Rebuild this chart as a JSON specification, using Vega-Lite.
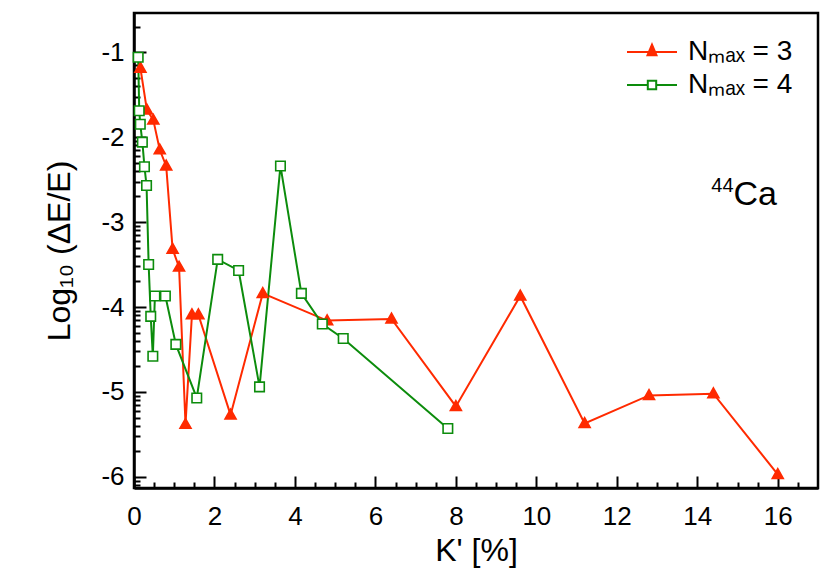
{
  "$schema": "https://vega.github.io/schema/vega-lite/v6.json",
  "width": 684,
  "height": 475,
  "autosize": {"type": "none"},
  "padding": {"left": 134, "top": 13, "right": 12, "bottom": 98},
  "background": "white",
  "config": {
    "font": "Liberation Sans",
    "view": {"stroke": "black", "strokeWidth": 2.5},
    "axis": {
      "labelFont": "Liberation Sans",
      "titleFont": "Liberation Sans",
      "labelColor": "black",
      "titleColor": "black",
      "titleFontWeight": "normal",
      "grid": false,
      "domainColor": "black",
      "tickColor": "black",
      "domainWidth": 2.5,
      "tickWidth": 2
    }
  },
  "data": {
    "values": [
      {"series": "Nmax = 3", "K": 0.16, "logdE": -1.19},
      {"series": "Nmax = 3", "K": 0.32, "logdE": -1.68},
      {"series": "Nmax = 3", "K": 0.48, "logdE": -1.80},
      {"series": "Nmax = 3", "K": 0.64, "logdE": -2.15},
      {"series": "Nmax = 3", "K": 0.80, "logdE": -2.34},
      {"series": "Nmax = 3", "K": 0.96, "logdE": -3.32},
      {"series": "Nmax = 3", "K": 1.12, "logdE": -3.53},
      {"series": "Nmax = 3", "K": 1.28, "logdE": -5.38},
      {"series": "Nmax = 3", "K": 1.44, "logdE": -4.09},
      {"series": "Nmax = 3", "K": 1.60, "logdE": -4.09},
      {"series": "Nmax = 3", "K": 2.40, "logdE": -5.27},
      {"series": "Nmax = 3", "K": 3.20, "logdE": -3.84},
      {"series": "Nmax = 3", "K": 4.80, "logdE": -4.16},
      {"series": "Nmax = 3", "K": 6.40, "logdE": -4.14},
      {"series": "Nmax = 3", "K": 8.00, "logdE": -5.17},
      {"series": "Nmax = 3", "K": 9.60, "logdE": -3.87},
      {"series": "Nmax = 3", "K": 11.20, "logdE": -5.37},
      {"series": "Nmax = 3", "K": 12.80, "logdE": -5.04},
      {"series": "Nmax = 3", "K": 14.40, "logdE": -5.02},
      {"series": "Nmax = 3", "K": 16.00, "logdE": -5.97},
      {"series": "Nmax = 4", "K": 0.104, "logdE": -1.06},
      {"series": "Nmax = 4", "K": 0.13, "logdE": -1.69},
      {"series": "Nmax = 4", "K": 0.156, "logdE": -1.85},
      {"series": "Nmax = 4", "K": 0.208, "logdE": -2.06},
      {"series": "Nmax = 4", "K": 0.26, "logdE": -2.35},
      {"series": "Nmax = 4", "K": 0.312, "logdE": -2.57},
      {"series": "Nmax = 4", "K": 0.364, "logdE": -3.50},
      {"series": "Nmax = 4", "K": 0.416, "logdE": -4.11},
      {"series": "Nmax = 4", "K": 0.468, "logdE": -4.58},
      {"series": "Nmax = 4", "K": 0.52, "logdE": -3.87},
      {"series": "Nmax = 4", "K": 0.78, "logdE": -3.87},
      {"series": "Nmax = 4", "K": 1.04, "logdE": -4.44},
      {"series": "Nmax = 4", "K": 1.56, "logdE": -5.07},
      {"series": "Nmax = 4", "K": 2.08, "logdE": -3.44},
      {"series": "Nmax = 4", "K": 2.60, "logdE": -3.57},
      {"series": "Nmax = 4", "K": 3.12, "logdE": -4.94},
      {"series": "Nmax = 4", "K": 3.64, "logdE": -2.34},
      {"series": "Nmax = 4", "K": 4.16, "logdE": -3.84},
      {"series": "Nmax = 4", "K": 4.68, "logdE": -4.20},
      {"series": "Nmax = 4", "K": 5.20, "logdE": -4.37},
      {"series": "Nmax = 4", "K": 7.80, "logdE": -5.43}
    ]
  },
  "layer": [
    {
      "mark": {"type": "line", "strokeWidth": 2},
      "encoding": {
        "x": {
          "field": "K", "type": "quantitative",
          "scale": {"domain": [0, 17], "nice": false, "zero": false},
          "axis": {
            "orient": "bottom",
            "values": [0, 2, 4, 6, 8, 10, 12, 14, 16],
            "tickSize": -12,
            "labelPadding": 27,
            "labelFontSize": 26,
            "labelFlush": false,
            "title": "K' [%]",
            "titleFontSize": 32,
            "titlePadding": 6
          }
        },
        "y": {
          "field": "logdE", "type": "quantitative",
          "scale": {"domain": [-6.13, -0.54], "nice": false, "zero": false},
          "axis": {
            "orient": "left",
            "values": [-6, -5, -4, -3, -2, -1],
            "tickSize": -12,
            "labelPadding": 22,
            "labelFontSize": 26,
            "labelFlush": false,
            "labelExpr": "replace(datum.label, '−', '-')",
            "title": "Log₁₀ (ΔE/E)",
            "titleFontSize": 32,
            "titlePadding": 24
          }
        },
        "detail": {"field": "series", "type": "nominal"},
        "stroke": {"condition": {"test": "datum.series == 'Nmax = 3'", "value": "#ff2a00"}, "value": "#0c8c0c"}
      }
    },
    {
      "mark": {"type": "point", "opacity": 0, "size": 100},
      "encoding": {
        "x": {"field": "K", "type": "quantitative", "axis": null},
        "y": {"field": "logdE", "type": "quantitative", "axis": null},
        "shape": {
          "field": "series", "type": "nominal",
          "scale": {"domain": ["Nmax = 3", "Nmax = 4"], "range": ["M-2.5,0H2.5M0,-0.74L0.45,0.33L-0.45,0.33Z", "M-2.5,0H-0.42M0.42,0H2.5M-0.42,-0.42H0.42V0.42H-0.42Z"]},
          "legend": {
            "title": null,
            "orient": "top-right",
            "offset": 25,
            "padding": 0,
            "symbolSize": 400,
            "symbolStrokeWidth": 2,
            "symbolOpacity": 1,
            "labelFont": "Liberation Sans",
            "labelFontSize": 28,
            "labelColor": "black",
            "labelOffset": 22,
            "labelLimit": 300,
            "rowPadding": 5,
            "labelExpr": "replace(datum.label, 'max', 'ₘₐₓ')",
            "encoding": {
              "symbols": {
                "fill": {"condition": {"test": "datum.value == 'Nmax = 3'", "value": "#ff2a00"}, "value": "white"},
                "stroke": {"condition": {"test": "datum.value == 'Nmax = 3'", "value": "#ff2a00"}, "value": "#0c8c0c"},
                "strokeWidth": {"value": 2},
                "opacity": {"value": 1}
              }
            }
          }
        }
      }
    },
    {
      "mark": {"type": "point", "opacity": 1, "strokeWidth": 1.6, "size": 100},
      "encoding": {
        "x": {
          "field": "K", "type": "quantitative",
          "axis": {
            "orient": "bottom",
            "values": [0.5, 1, 1.5, 2.5, 3, 3.5, 4.5, 5, 5.5, 6.5, 7, 7.5, 8.5, 9, 9.5, 10.5, 11, 11.5, 12.5, 13, 13.5, 14.5, 15, 15.5, 16.5],
            "tickSize": -6,
            "labels": false,
            "domain": false,
            "title": null
          }
        },
        "y": {
          "field": "logdE", "type": "quantitative",
          "axis": {
            "orient": "left",
            "values": [-0.699,
              -1.699, -1.523, -1.398, -1.301, -1.222, -1.155, -1.097, -1.046,
              -2.699, -2.523, -2.398, -2.301, -2.222, -2.155, -2.097, -2.046,
              -3.699, -3.523, -3.398, -3.301, -3.222, -3.155, -3.097, -3.046,
              -4.699, -4.523, -4.398, -4.301, -4.222, -4.155, -4.097, -4.046,
              -5.699, -5.523, -5.398, -5.301, -5.222, -5.155, -5.097, -5.046,
              -6.097, -6.046],
            "tickSize": -6,
            "labels": false,
            "domain": false,
            "title": null
          }
        },
        "shape": {"condition": {"test": "datum.series == 'Nmax = 3'", "value": "M0,-1.15L1.1,0.8L-1.1,0.8Z"}, "value": "M-0.95,-0.95H0.95V0.95H-0.95Z"},
        "fill": {"condition": {"test": "datum.series == 'Nmax = 3'", "value": "#ff2a00"}, "value": "white"},
        "stroke": {"condition": {"test": "datum.series == 'Nmax = 3'", "value": "#ff2a00"}, "value": "#0c8c0c"}
      }
    },
    {
      "data": {"values": [{}]},
      "mark": {"type": "text", "align": "left", "baseline": "alphabetic", "fontSize": 34, "font": "Liberation Sans", "color": "black"},
      "encoding": {
        "x": {"datum": 14.9, "type": "quantitative", "axis": null},
        "y": {"datum": -2.8, "type": "quantitative", "axis": null},
        "text": {"value": "Ca"}
      }
    },
    {
      "data": {"values": [{}]},
      "mark": {"type": "text", "align": "right", "baseline": "alphabetic", "fontSize": 20, "font": "Liberation Sans", "color": "black", "dy": -13},
      "encoding": {
        "x": {"datum": 14.9, "type": "quantitative", "axis": null},
        "y": {"datum": -2.8, "type": "quantitative", "axis": null},
        "text": {"value": "44"}
      }
    }
  ],
  "resolve": {"axis": {"x": "independent", "y": "independent"}}
}
